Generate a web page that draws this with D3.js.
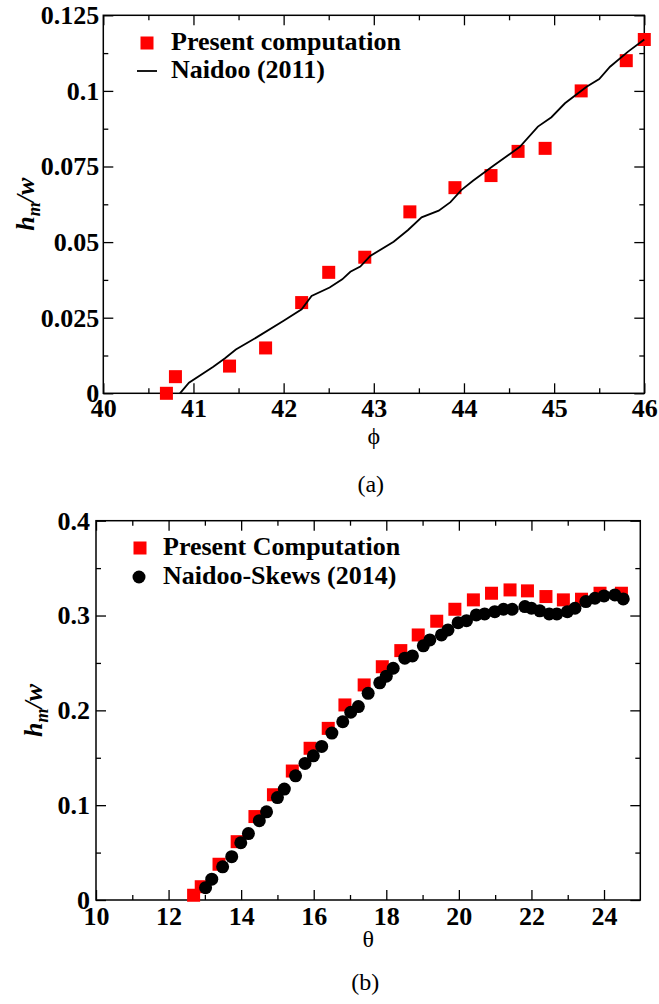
<!DOCTYPE html>
<html><head><meta charset="utf-8">
<script src="https://cdn.jsdelivr.net/npm/d3@7"></script>
<style>
body{margin:0;background:#fff;}
svg{display:block;}
text{font-family:"Liberation Serif","Times New Roman",serif;}
</style></head>
<body>
<svg id="c" width="659" height="1004"></svg>
<script>
// ---------- Data: panel (a) ----------
const presentA_phi = [40.7, 40.8, 41.4, 41.8, 42.2, 42.5, 42.9, 43.4, 43.9, 44.3, 44.6, 44.9, 45.3, 45.8, 46.0];
const presentA_h   = [0.0, 0.0055, 0.009, 0.015, 0.030, 0.040, 0.045, 0.060, 0.068, 0.072, 0.080, 0.081, 0.100, 0.110, 0.117];
const naidooA_phi = [40.85, 40.95, 41.22, 41.35, 41.47, 41.70, 42.0, 42.2, 42.31, 42.51, 42.65, 42.74, 42.85, 42.96, 43.22, 43.38, 43.53, 43.72, 43.85, 43.97, 44.10, 44.33, 44.62, 44.82, 44.97, 45.12, 45.36, 45.50, 45.62, 45.82, 46.0];
const naidooA_h   = [0.0, 0.0035, 0.0088, 0.0116, 0.0145, 0.0185, 0.024, 0.0278, 0.0322, 0.035, 0.0377, 0.0402, 0.0419, 0.0454, 0.0501, 0.054, 0.0582, 0.0604, 0.0632, 0.0672, 0.0703, 0.0753, 0.0815, 0.0882, 0.0913, 0.0959, 0.1014, 0.1039, 0.108, 0.113, 0.117];
const xTicksA = [40, 41, 42, 43, 44, 45, 46];
const yTicksA = [0, 0.025, 0.05, 0.075, 0.1, 0.125];
const yLabelsA = ["0", "0.025", "0.05", "0.075", "0.1", "0.125"];

// ---------- Data: panel (b) ----------
const presentB_theta = [12.69, 12.9, 13.39, 13.89, 14.38, 14.89, 15.41, 15.9, 16.4, 16.86, 17.39, 17.89, 18.4, 18.88, 19.39, 19.89, 20.4, 20.9, 21.41, 21.89, 22.4, 22.88, 23.38, 23.89, 24.48];
const presentB_h     = [0.005, 0.014, 0.0377, 0.0615, 0.088, 0.111, 0.136, 0.16, 0.181, 0.2057, 0.2268, 0.246, 0.263, 0.2795, 0.294, 0.3066, 0.3165, 0.3235, 0.327, 0.326, 0.32, 0.3165, 0.3172, 0.3235, 0.3235];
const skewsB_theta = [13.02, 13.19, 13.49, 13.74, 13.99, 14.2, 14.5, 14.7, 15.0, 15.19, 15.5, 15.76, 15.99, 16.22, 16.5, 16.8, 17.02, 17.23, 17.5, 17.82, 18.0, 18.19, 18.51, 18.72, 19.02, 19.2, 19.52, 19.7, 19.98, 20.21, 20.48, 20.71, 20.99, 21.23, 21.47, 21.82, 22.0, 22.23, 22.49, 22.7, 22.99, 23.2, 23.5, 23.75, 24.0, 24.3, 24.53];
const skewsB_h     = [0.013, 0.022, 0.035, 0.0457, 0.0604, 0.070, 0.0837, 0.093, 0.108, 0.117, 0.131, 0.144, 0.152, 0.162, 0.176, 0.188, 0.198, 0.204, 0.218, 0.229, 0.236, 0.2444, 0.255, 0.2574, 0.268, 0.2743, 0.2795, 0.2848, 0.2925, 0.2946, 0.3006, 0.3017, 0.3041, 0.3066, 0.3066, 0.3094, 0.3077, 0.305, 0.3017, 0.3017, 0.3041, 0.3077, 0.3147, 0.3182, 0.3207, 0.3217, 0.3175];
const xTicksB = [10, 12, 14, 16, 18, 20, 22, 24];
const yTicksB = [0, 0.1, 0.2, 0.3, 0.4];
const yLabelsB = ["0", "0.1", "0.2", "0.3", "0.4"];

const svg = d3.select("#c");
const FS = 26;

function panel(o){
  const g = svg.append("g");
  const x = d3.scaleLinear().domain(o.xd).range([o.L, o.R]);
  const y = d3.scaleLinear().domain(o.yd).range([o.B, o.T]);
  const W = o.R - o.L, H = o.B - o.T;
  function styleAxis(sel){
    sel.select(".domain").remove();
    sel.selectAll(".tick line").attr("stroke","#000").attr("stroke-width",1.3);
    sel.selectAll("text").attr("font-size",FS).attr("font-weight","bold").attr("fill","#000")
       .style("font-family",'"Liberation Serif","Times New Roman",serif');
  }
  // bottom major
  g.append("g").attr("transform",`translate(0,${o.B})`)
    .call(d3.axisBottom(x).tickValues(o.xt).tickSize(-10).tickPadding(o.xpad).tickFormat(d=>String(d)))
    .call(styleAxis);
  g.append("g").attr("transform",`translate(0,${o.B})`)
    .call(d3.axisBottom(x).tickValues(o.xm).tickSize(-5).tickFormat(""))
    .call(styleAxis);
  // top
  g.append("g").attr("transform",`translate(0,${o.T})`)
    .call(d3.axisTop(x).tickValues(o.xt).tickSize(-10).tickFormat(""))
    .call(styleAxis);
  g.append("g").attr("transform",`translate(0,${o.T})`)
    .call(d3.axisTop(x).tickValues(o.xm).tickSize(-5).tickFormat(""))
    .call(styleAxis);
  // left
  g.append("g").attr("transform",`translate(${o.L},0)`)
    .call(d3.axisLeft(y).tickValues(o.yt).tickSize(-10).tickPadding(o.ypad).tickFormat((d,i)=>o.yl[i]))
    .call(styleAxis);
  g.append("g").attr("transform",`translate(${o.L},0)`)
    .call(d3.axisLeft(y).tickValues(o.ym).tickSize(-5).tickFormat(""))
    .call(styleAxis);
  // right
  g.append("g").attr("transform",`translate(${o.R},0)`)
    .call(d3.axisRight(y).tickValues(o.yt).tickSize(-10).tickFormat(""))
    .call(styleAxis);
  g.append("g").attr("transform",`translate(${o.R},0)`)
    .call(d3.axisRight(y).tickValues(o.ym).tickSize(-5).tickFormat(""))
    .call(styleAxis);
  // frame
  g.append("rect").attr("x",o.L).attr("y",o.T).attr("width",W).attr("height",H)
    .attr("fill","none").attr("stroke","#000").attr("stroke-width",1.5);
  // x label
  g.append("text").attr("x",(o.L+o.R)/2).attr("y",o.xlabY).attr("text-anchor","middle")
    .attr("font-size",24).text(o.xlab);
  // y label
  const yl = g.append("text").attr("transform",`translate(${o.ylabX},${(o.T+o.B)/2}) rotate(-90)`)
    .attr("text-anchor","middle").attr("font-size",FS).attr("font-weight","bold").attr("font-style","italic");
  yl.append("tspan").text("h");
  yl.append("tspan").attr("font-size",18).attr("dy",6).text("m");
  yl.append("tspan").attr("dy",-6).text("/w");
  // caption
  g.append("text").attr("x",(o.L+o.R)/2 - 3).attr("y",o.capY).attr("text-anchor","middle")
    .attr("font-size",24).text(o.cap);
  return {g,x,y};
}

// ---------- Panel (a) ----------
const A = panel({L:103.3,R:644.3,T:15.3,B:393.3,xd:[40,46],yd:[0,0.125],
  xt:xTicksA, xm:d3.range(40.5,46,1), yt:yTicksA, yl:yLabelsA, ym:d3.range(0.0125,0.125,0.025),
  xpad:5, ypad:4, xlab:"ϕ", xlabY:444, ylabX:34, cap:"(a)", capY:492});
const SQ = 13;
A.g.append("g").selectAll("rect").data(presentA_phi).join("rect")
  .attr("x",(d)=>A.x(d)-SQ/2).attr("y",(d,i)=>A.y(presentA_h[i])-SQ/2)
  .attr("width",SQ).attr("height",SQ).attr("fill","#ff0000");
A.g.append("path").datum(naidooA_phi.map((d,i)=>[d,naidooA_h[i]]))
  .attr("fill","none").attr("stroke","#000").attr("stroke-width",1.8)
  .attr("d",d3.line().x(d=>A.x(d[0])).y(d=>A.y(d[1])));
// legend (a)
A.g.append("rect").attr("x",147-SQ/2).attr("y",43-SQ/2).attr("width",SQ).attr("height",SQ).attr("fill","#ff0000");
A.g.append("text").attr("x",171).attr("y",50).attr("font-size",FS).attr("font-weight","bold").text("Present computation");
A.g.append("line").attr("x1",137).attr("x2",157).attr("y1",71).attr("y2",71).attr("stroke","#000").attr("stroke-width",1.8);
A.g.append("text").attr("x",171).attr("y",78).attr("font-size",FS).attr("font-weight","bold").text("Naidoo (2011)");

// ---------- Panel (b) ----------
const B = panel({L:96,R:640.3,T:520.7,B:900,xd:[10,25],yd:[0,0.4],
  xt:xTicksB, xm:d3.range(11,25,2), yt:yTicksB, yl:yLabelsB, ym:d3.range(0.05,0.4,0.1),
  xpad:6.5, ypad:6, xlab:"θ", xlabY:947, ylabX:42, cap:"(b)", capY:990});
B.g.append("g").selectAll("rect").data(presentB_theta).join("rect")
  .attr("x",(d)=>B.x(d)-SQ/2).attr("y",(d,i)=>B.y(presentB_h[i])-SQ/2)
  .attr("width",SQ).attr("height",SQ).attr("fill","#ff0000");
B.g.append("g").selectAll("circle").data(skewsB_theta).join("circle")
  .attr("cx",d=>B.x(d)).attr("cy",(d,i)=>B.y(skewsB_h[i])).attr("r",6.5).attr("fill","#000");
// legend (b)
B.g.append("rect").attr("x",140-SQ/2).attr("y",548-SQ/2).attr("width",SQ).attr("height",SQ).attr("fill","#ff0000");
B.g.append("text").attr("x",163).attr("y",555).attr("font-size",FS).attr("font-weight","bold").text("Present Computation");
B.g.append("circle").attr("cx",139).attr("cy",577).attr("r",6.5).attr("fill","#000");
B.g.append("text").attr("x",163).attr("y",584).attr("font-size",FS).attr("font-weight","bold").text("Naidoo-Skews (2014)");
</script>
</body></html>
